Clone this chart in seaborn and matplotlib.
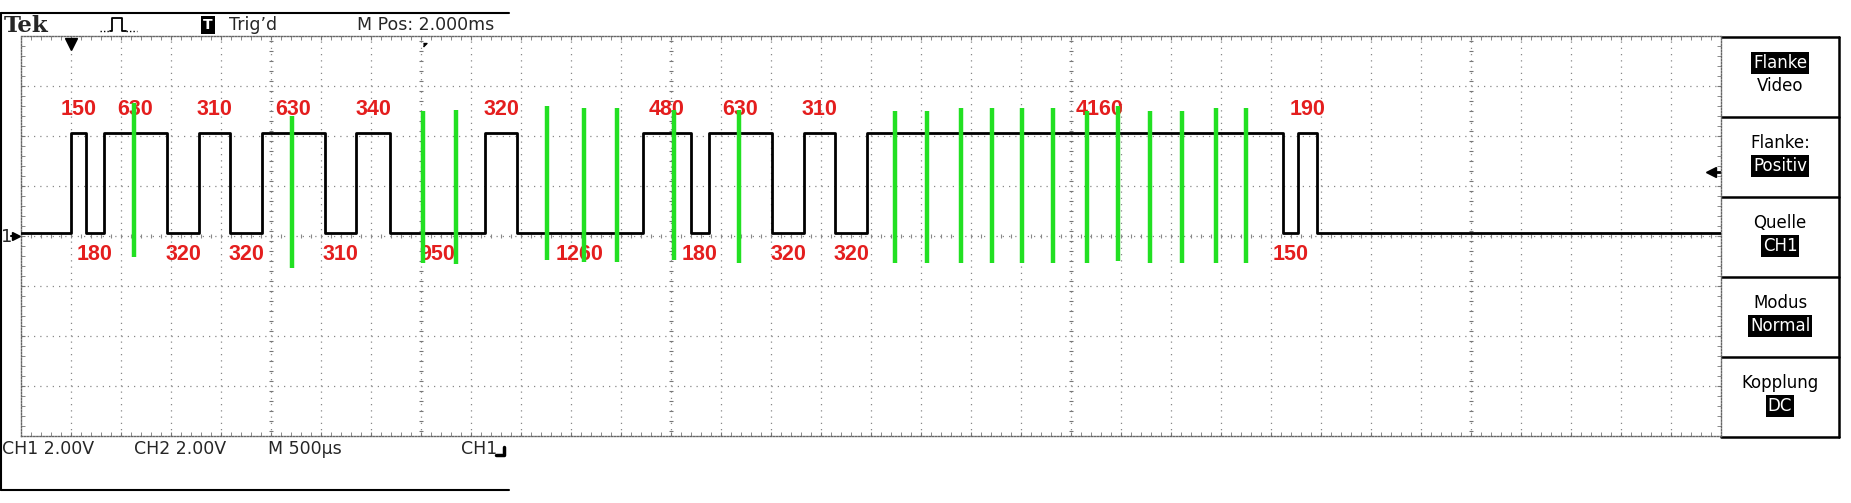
import numpy as np
import matplotlib
matplotlib.use('Agg')
from matplotlib import pyplot as plt
import seaborn as sns

# pulse widths in us, alternating high / low, first one is high
durations_us = [150, 180, 630, 320, 310, 320, 630, 310, 340, 950, 320,
                1260, 480, 180, 630, 320, 310, 320, 4160, 150, 190]
start_ms = 0.5          # first rising edge (trigger point)
end_ms = 17.0           # right edge of screen
low_v = 0.1
high_v = 4.1

# green sample lines: time (ms), top / bottom (V)
marker_ms = [1.13, 2.71, 4.02, 4.35, 5.26, 5.63, 5.96, 6.53, 7.18, 8.74, 9.06,
             9.40, 9.71, 10.01, 10.32, 10.66, 10.97, 11.29, 11.61, 11.95, 12.25]
marker_top = [5.3, 4.8, 5.0, 5.04, 5.2, 5.12, 5.12, 5.04, 5.04, 5.0, 5.0,
              5.1, 5.1, 5.1, 5.1, 5.0, 5.2, 5.0, 5.0, 5.1, 5.1]
marker_bottom = [-0.84, -1.28, -1.08, -1.12, -0.96, -1.04, -1.04, -0.96, -1.08,
                 -1.1, -1.1, -1.1, -1.1, -1.1, -1.1, -1.1, -1.0, -1.1, -1.1, -1.1, -1.1]

label_nudge = {18: 0.25}  # the 4160 label sits a bit right of centre

panel_rows = [("Flanke", True, "Video", False),
              ("Flanke:", False, "Positiv", True),
              ("Quelle", False, "CH1", True),
              ("Modus", False, "Normal", True),
              ("Kopplung", False, "DC", True)]

W, H = 1851, 503
GL, GR, GT, GB = 21, 1721, 36, 436

sns.set_style('white')
plt.rcParams['font.family'] = ['DejaVu Sans']

fig = plt.figure(figsize=(W / 100, H / 100), dpi=100)
fig.patch.set_facecolor('white')

# overlay in pixel coords for the scope frame / menus
bg = fig.add_axes([0, 0, 1, 1])
bg.set_xlim(0, W)
bg.set_ylim(H, 0)
bg.set_axis_off()

ax = fig.add_axes([GL / W, 1 - GB / H, (GR - GL) / W, (GB - GT) / H])
ax.set_xlim(0, end_ms)
ax.set_ylim(-8, 8)

# waveform
edges = [start_ms]
for d in durations_us:
    edges.append(edges[-1] + d / 1000)
xs = [0] + edges + [end_ms]
ys = [low_v] + [high_v if i % 2 == 0 else low_v for i in range(len(edges))] + [low_v]
sns.lineplot(x=xs, y=ys, ax=ax, drawstyle='steps-post', estimator=None,
             sort=False, color='black', lw=2.0, zorder=3)

# duration labels
for i, d in enumerate(durations_us):
    cx = (edges[i] + edges[i + 1]) / 2 + label_nudge.get(i, 0)
    cy = 5.04 if i % 2 == 0 else -0.76
    ax.text(cx, cy, str(d), ha='center', va='center', color='#e41e1e',
            fontsize=15.5, fontweight='bold', family=['Liberation Sans', 'DejaVu Sans'],
            zorder=4)

ax.vlines(marker_ms, marker_bottom, marker_top, colors='#22e022', lw=3.2, zorder=5)

# graticule
ax.set_xticks(np.arange(0.5, end_ms, 0.5))
ax.set_yticks(np.arange(-6, 8, 2))
ax.set_xticks(np.arange(0.1, end_ms, 0.1), minor=True)
ax.set_yticks(np.arange(-7.6, 8, 0.4), minor=True)
ax.grid(True, which='major', color='#888888', lw=0.9, ls=(0, (1, 4)))
ax.tick_params(which='both', direction='in', length=3, color='#777777',
               top=True, right=True, left=True, bottom=True,
               labelbottom=False, labelleft=False)
for s in ax.spines.values():
    s.set_linestyle((0, (1, 1.2)))
    s.set_color('#666666')
    s.set_linewidth(1.0)
for x in [2.5, 4.0, 6.5, 10.5, 14.5]:
    ax.plot([x] * 40, np.arange(-7.8, 8, 0.4), ls='none', marker='_', ms=3,
            color='#777777', mew=0.8, zorder=1)
ax.plot(np.arange(0.1, end_ms, 0.1), [0] * 169, ls='none', marker='|', ms=3,
        color='#888888', mew=0.8, zorder=1)

# markers on the screen
ax.plot([0.5], [7.68], marker='v', ms=8, color='black', clip_on=False)
ax.plot([4.02], [7.7], marker=[(0, 0), (1, 0), (0, -1)], ms=5, color='black')
ax.plot([16.9, 17.0], [2.56, 2.56], color='black', lw=2)
ax.plot([16.9], [2.56], marker='<', ms=7, color='black')
ax.plot([-0.1, -0.03], [0, 0], color='black', lw=1.5, clip_on=False)
ax.plot([-0.05], [0], marker='>', ms=6, color='black', clip_on=False)
bg.text(1, 237, "1", ha='left', va='center', fontsize=13)

# header / footer frame
bg.plot([1, 509], [13, 13], color='black', lw=1.5)
bg.plot([1, 509], [490, 490], color='black', lw=1.5)
bg.plot([1, 1], [13, 490], color='black', lw=1.5)
bg.text(4, 26, "Tek", ha='left', va='center', fontsize=16.5, fontweight='bold',
        family='DejaVu Serif')
bg.plot([100, 110], [31, 31], color='black', lw=1, ls=(0, (1, 1.5)))
bg.plot([110, 112, 112, 122, 122, 126], [31, 31, 18, 18, 31, 31], color='black', lw=1.3)
bg.plot([126, 137], [31, 31], color='black', lw=1, ls=(0, (1, 1.5)))
bg.text(208, 25, "T", ha='center', va='center', fontsize=10, color='white',
        fontweight='bold', bbox=dict(facecolor='black', edgecolor='none', pad=1.5))
bg.text(229, 25, "Trig\u2019d", ha='left', va='center', fontsize=12.5)
bg.text(357, 25, "M Pos: 2.000ms", ha='left', va='center', fontsize=12.5)
bg.text(2, 449, "CH1 2.00V", ha='left', va='center', fontsize=12.5)
bg.text(134, 449, "CH2 2.00V", ha='left', va='center', fontsize=12.5)
bg.text(268, 449, "M 500\u00b5s", ha='left', va='center', fontsize=12.5)
bg.text(461, 449, "CH1", ha='left', va='center', fontsize=12.5)
bg.plot([496, 504, 504], [455, 455, 447], color='black', lw=2.5)

# side menu
for k in range(6):
    bg.plot([GR, 1839], [GT + 1 + 80 * k, GT + 1 + 80 * k], color='black', lw=1.8)
bg.plot([1839, 1839], [GT + 1, GB + 1], color='black', lw=1.8)
for k, (t1, inv1, t2, inv2) in enumerate(panel_rows):
    y0 = GT + 1 + 80 * k
    for txt, inv, yy in [(t1, inv1, y0 + 26), (t2, inv2, y0 + 49)]:
        kw = dict(color='white', bbox=dict(facecolor='black', edgecolor='none', pad=1.2)) if inv else dict(color='black')
        bg.text(1780, yy, txt, ha='center', va='center', fontsize=12, **kw)

fig.savefig('out.png', dpi=100, facecolor='white')
